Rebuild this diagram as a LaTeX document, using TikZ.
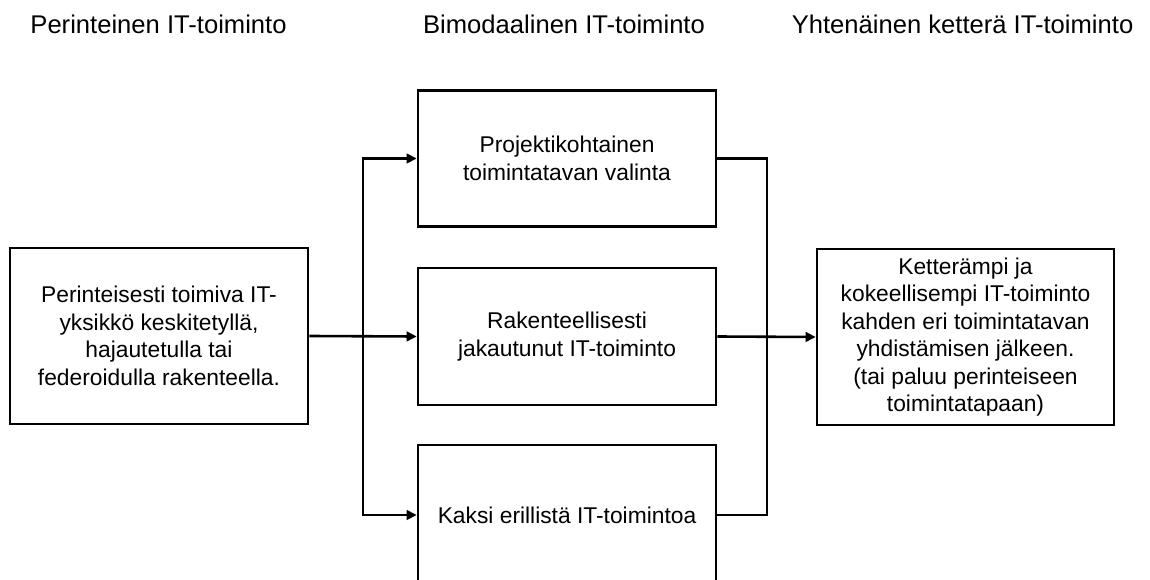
\documentclass[tikz,border=0pt]{standalone}
\usepackage{fontspec}
\setmainfont{Liberation Sans}
\usetikzlibrary{arrows.meta}
\begin{document}
\begin{tikzpicture}[x=1pt,y=-1pt,
  line width=2.6pt,
  header/.style={anchor=base,inner sep=0pt,font=\fontsize{25.6}{30}\selectfont},
  stagebox/.style={draw,rectangle,inner sep=0pt,align=center,
    font=\fontsize{22.8}{27.5}\selectfont},
  arr/.style={-{Triangle[length=10pt,width=9.5pt]}},
  link/.style={line cap=rect}]
\clip (0,0) rectangle (1150,580);
\fill[white] (0,0) rectangle (1150,580);

% column headings
\node[header] (h1) at (158.5,34) {Perinteinen IT-toiminto};
\node[header] (h2) at (564,34) {Bimodaalinen IT-toiminto};
\node[header] (h3) at (962.5,34) {Yhtenäinen ketterä IT-toiminto};

% stages
\node[stagebox,minimum width=298pt,minimum height=176pt] (left) at (159,336)
  {Perinteisesti toimiva IT-\\yksikkö keskitetyllä,\\hajautetulla tai\\federoidulla rakenteella.};
\node[stagebox,minimum width=298pt,minimum height=136pt] (top) at (567,158.5)
  {Projektikohtainen\\toimintatavan valinta};
\node[stagebox,minimum width=298pt,minimum height=137pt] (mid) at (567,336.5)
  {Rakenteellisesti\\jakautunut IT-toiminto};
\node[stagebox,minimum width=298pt,minimum height=140pt] (bot) at (567,515)
  {Kaksi erillistä IT-toimintoa};
\node[stagebox,minimum width=297pt,minimum height=176pt] (right) at (965.5,337)
  {Ketterämpi ja\\kokeellisempi IT-toiminto\\kahden eri toimintatavan\\yhdistämisen jälkeen.\\(tai paluu perinteiseen\\toimintatapaan)};

% branch points
\coordinate (jl) at (363,336);
\coordinate (jr) at (767,336);

% split into the three bimodal variants
\draw[arr] (left.east) -- (mid.west);
\draw[link] (jl |- top.west) -- (jl |- bot.west);
\draw[arr] (jl |- top.west) -- (top.west);
\draw[arr] (jl |- bot.west) -- (bot.west);

% merge towards the unified agile function
\draw[link] (top.east) -- (top.east -| jr) -- (bot.east -| jr) -- (bot.east);
\draw[arr] (mid.east) -- (right.west);
\end{tikzpicture}
\end{document}
